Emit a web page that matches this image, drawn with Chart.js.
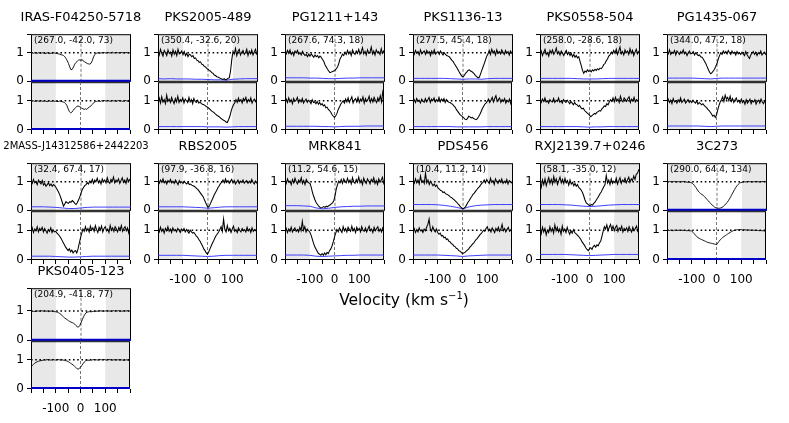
<!DOCTYPE html>
<html><head><meta charset="utf-8">
<script src="https://cdn.jsdelivr.net/npm/chart.js@4.4.1/dist/chart.umd.min.js"></script>
<style>
html,body{margin:0;padding:0;background:#fff;}
body{width:789px;height:423px;position:relative;overflow:hidden;font-family:"DejaVu Sans",sans-serif;}
canvas{position:absolute;}
.ttl{position:absolute;width:200px;height:16px;line-height:16px;text-align:center;white-space:nowrap;color:#000;}
.ann{position:absolute;font-size:9px;line-height:11px;white-space:nowrap;color:#000;}
.xl{position:absolute;font-size:15.5px;line-height:20px;white-space:nowrap;color:#000;width:300px;text-align:center;}
.xl sup{font-size:10px;vertical-align:6px;line-height:0;}
</style></head><body>
<script>
// ---------------- data ----------------
const VEL = [-200,-195,-190,-185,-180,-175,-170,-165,-160,-155,-150,-145,-140,-135,-130,-125,-120,-115,-110,-105,-100,-95,-90,-85,-80,-75,-70,-65,-60,-55,-50,-45,-40,-35,-30,-25,-20,-15,-10,-5,0,5,10,15,20,25,30,35,40,45,50,55,60,65,70,75,80,85,90,95,100,105,110,115,120,125,130,135,140,145,150,155,160,165,170,175,180,185,190,195,200];
const VEL_ERR = [-200,-175,-150,-125,-100,-75,-50,-25,0,25,50,75,100,125,150,175,200];
const X_TICKS = [-200,-150,-100,-50,0,50,100,150,200];
const X_TICK_LABELS = ['','','-100','','0','','100','',''];
const Y_TICKS = [0,1];
const Y_TICK_LABELS = ['0','1'];
const SHADE = [[-200,-100],[100,200]];
const CONTINUUM = 1;

const TARGETS = ['IRAS-F04250-5718','PKS2005-489','PG1211+143','PKS1136-13','PKS0558-504','PG1435-067','2MASS-J14312586+2442203','RBS2005','MRK841','PDS456','RXJ2139.7+0246','3C273','PKS0405-123'];
const COORDS = ['(267.0, -42.0, 73)','(350.4, -32.6, 20)','(267.6, 74.3, 18)','(277.5, 45.4, 18)','(258.0, -28.6, 18)','(344.0, 47.2, 18)','(32.4, 67.4, 17)','(97.9, -36.8, 16)','(11.2, 54.6, 15)','(10.4, 11.2, 14)','(58.1, -35.0, 12)','(290.0, 64.4, 134)','(204.9, -41.8, 77)'];

const IRAS_A = [0.99,1.0,0.98,1.0,0.99,0.98,1.0,0.99,0.98,1.0,
0.99,0.97,0.98,1.0,0.98,0.97,0.99,0.98,1.0,0.99,
0.98,0.97,0.96,0.95,0.93,0.92,0.9,0.86,0.8,0.72,
0.62,0.5,0.4,0.42,0.5,0.6,0.66,0.7,0.74,0.75,
0.73,0.76,0.7,0.68,0.65,0.62,0.61,0.6,0.63,0.72,
0.85,0.94,0.98,0.99,1.0,0.98,1.0,0.99,1.01,1.0,
0.99,1.0,1.01,0.99,1.0,1.02,0.99,1.0,1.01,1.0,
1.0,0.99,1.01,1.0,1.0,0.99,1.01,1.0,0.99,1.0,
1.0];
const IRAS_B = [0.98,0.99,1.0,0.98,0.99,1.0,0.99,0.98,1.0,0.99,
0.98,1.0,0.99,0.97,0.99,1.0,0.98,0.99,1.0,0.98,
0.99,0.98,0.97,0.99,0.98,0.97,0.96,0.94,0.9,0.84,
0.72,0.62,0.58,0.6,0.66,0.72,0.76,0.8,0.82,0.8,
0.78,0.74,0.72,0.7,0.72,0.7,0.74,0.78,0.8,0.86,
0.9,0.94,0.97,0.98,0.99,1.0,0.98,1.0,0.99,1.01,
1.0,0.99,1.01,1.0,0.98,1.0,1.01,0.99,1.0,0.98,
1.0,1.01,0.99,1.0,0.98,0.99,1.01,1.0,0.99,0.98,
0.99];
const PKS2005_A = [1.05,0.92,1.12,0.98,0.88,1.08,1.0,0.9,1.1,0.97,
1.02,0.88,1.1,0.95,1.05,0.9,1.12,0.96,0.99,1.06,
0.93,1.04,0.9,0.98,0.86,0.95,0.92,0.86,0.9,0.8,
0.82,0.74,0.72,0.66,0.68,0.6,0.58,0.52,0.5,0.45,
0.42,0.38,0.35,0.3,0.28,0.22,0.2,0.16,0.15,0.12,
0.1,0.08,0.06,0.09,0.05,0.07,0.1,0.12,0.35,0.75,
1.05,0.95,1.15,0.9,1.05,1.12,0.92,1.02,1.08,0.94,
1.0,1.12,0.9,1.05,0.96,1.1,0.92,1.03,1.12,0.95,
1.0];
const PKS2005_B = [1.0,1.1,0.92,1.14,0.96,1.04,0.9,1.2,0.98,1.06,
0.94,1.12,1.0,0.9,1.08,0.96,1.16,0.94,1.04,0.98,
1.1,0.92,1.06,1.0,0.94,1.12,0.96,1.04,0.9,1.08,
0.98,0.94,1.02,0.92,0.96,0.9,0.88,0.86,0.84,0.8,
0.78,0.74,0.7,0.66,0.62,0.6,0.55,0.52,0.48,0.46,
0.42,0.38,0.35,0.32,0.3,0.26,0.24,0.34,0.45,0.62,
0.76,0.86,0.92,1.04,0.94,1.1,0.98,1.04,0.92,1.08,
1.0,1.12,0.94,1.04,0.98,1.1,0.92,1.02,1.06,0.96,
1.0];
const PG1211_A = [1.04,0.96,1.08,0.98,1.1,0.94,1.02,0.9,1.06,0.99,
1.08,0.95,1.0,0.92,1.05,0.96,0.9,0.94,0.86,0.95,
0.88,0.96,0.9,0.84,0.92,0.86,0.9,0.82,0.88,0.84,
0.76,0.7,0.58,0.5,0.42,0.36,0.3,0.32,0.34,0.36,
0.38,0.44,0.5,0.62,0.78,0.86,0.95,0.9,1.02,0.94,
1.08,0.96,1.04,0.9,1.1,1.0,0.94,1.06,0.98,1.12,
0.95,1.04,1.18,0.96,1.05,0.92,1.1,0.98,1.02,1.2,
0.96,1.06,0.92,1.1,1.0,1.04,0.94,1.14,0.98,1.06,
0.92];
const PG1211_B = [0.98,1.06,0.94,1.1,0.96,1.04,0.9,1.08,0.98,1.02,
1.12,0.94,1.04,0.96,1.08,0.92,1.0,1.06,0.95,1.02,
0.98,0.9,1.04,0.94,0.96,0.9,0.98,0.88,0.94,0.86,
0.9,0.82,0.86,0.76,0.78,0.7,0.66,0.6,0.52,0.46,
0.42,0.48,0.56,0.7,0.78,0.88,0.94,1.0,0.92,1.06,
0.96,1.1,0.94,1.04,1.14,0.92,1.02,1.08,0.96,1.12,
0.94,1.06,1.0,1.14,0.92,1.08,0.98,1.04,1.16,0.95,
1.08,0.96,1.12,1.02,0.94,1.1,1.0,1.18,0.96,1.3,
1.1];
const PKS1136_A = [1.02,0.94,1.08,0.98,1.04,0.92,1.1,0.96,1.02,1.06,
0.94,1.08,0.98,1.04,0.9,1.06,0.96,1.1,0.95,1.0,
1.04,0.94,1.06,0.98,0.92,1.0,0.94,0.9,0.88,0.86,
0.8,0.74,0.7,0.62,0.55,0.48,0.4,0.32,0.25,0.18,
0.15,0.2,0.28,0.32,0.38,0.4,0.36,0.34,0.3,0.26,
0.2,0.16,0.12,0.14,0.25,0.38,0.5,0.62,0.75,0.88,
0.96,1.08,0.94,1.12,1.0,1.06,0.92,1.1,0.98,1.04,
0.96,1.1,1.02,0.94,1.08,0.98,1.04,0.92,1.06,0.98,
1.0];
const PKS1136_B = [0.96,1.04,0.94,1.08,0.98,1.02,0.92,1.06,1.0,0.95,
1.08,0.96,1.04,1.12,0.94,1.06,1.0,1.1,0.96,1.04,
0.98,1.12,0.96,1.06,1.0,1.08,0.94,1.04,0.98,0.95,
0.94,0.9,0.88,0.82,0.78,0.7,0.64,0.58,0.52,0.48,
0.45,0.4,0.36,0.34,0.38,0.46,0.44,0.4,0.42,0.38,
0.36,0.34,0.38,0.44,0.52,0.62,0.72,0.8,0.88,0.92,
0.98,1.06,0.94,1.02,1.12,0.96,1.08,1.18,0.98,1.04,
1.1,0.94,1.04,0.98,1.08,0.92,1.02,0.96,1.06,0.9,
1.0];
const PKS0558_A = [0.96,1.06,0.9,1.02,1.12,0.94,1.0,0.88,1.08,0.98,
1.1,0.94,1.02,1.16,0.96,1.04,0.92,1.06,0.98,0.9,
1.0,1.08,0.94,1.02,0.9,0.98,0.86,0.94,0.84,0.9,
0.82,0.86,0.7,0.55,0.38,0.28,0.36,0.32,0.4,0.34,
0.38,0.33,0.4,0.36,0.42,0.38,0.44,0.4,0.46,0.44,
0.5,0.58,0.62,0.72,0.78,0.88,0.92,1.02,0.96,1.08,
0.98,1.12,0.94,1.06,1.2,0.96,1.04,0.92,1.1,1.0,
1.06,0.94,1.14,0.98,1.08,0.9,1.02,1.12,0.96,1.04,
0.98];
const PKS0558_B = [1.02,0.94,1.06,0.98,1.1,0.96,1.0,0.92,1.04,0.98,
0.96,1.08,0.94,1.02,0.98,1.1,0.95,1.0,0.92,1.04,
0.98,0.94,1.02,0.96,0.9,0.98,0.92,0.86,0.94,0.88,
0.86,0.8,0.84,0.76,0.72,0.74,0.66,0.62,0.58,0.54,
0.5,0.44,0.48,0.52,0.56,0.54,0.6,0.62,0.66,0.64,
0.72,0.76,0.82,0.8,0.9,0.86,0.96,1.04,0.98,1.1,
0.96,1.12,1.0,1.06,0.94,1.16,1.02,0.96,1.1,1.04,
0.98,1.08,1.14,0.94,1.06,1.0,1.12,0.96,1.04,1.0,
1.06];
const PG1435_A = [1.04,0.96,1.1,0.94,1.02,0.98,1.08,0.92,1.06,1.0,
0.94,1.04,0.98,1.1,0.96,1.02,0.9,1.0,1.06,0.96,
0.98,1.04,0.92,1.0,0.94,0.9,0.92,0.86,0.84,0.78,
0.7,0.62,0.52,0.42,0.32,0.26,0.3,0.36,0.42,0.52,
0.62,0.78,0.9,1.0,0.94,1.06,0.98,1.04,0.96,1.08,
1.0,0.94,1.06,0.98,1.02,0.92,1.04,0.96,1.0,0.94,
1.02,0.96,0.9,1.04,0.94,0.86,0.8,0.92,0.98,1.04,
0.94,1.02,0.9,1.0,0.96,1.06,0.92,0.98,1.02,0.94,
0.98];
const PG1435_B = [0.98,1.06,0.94,1.02,0.9,1.08,0.96,1.0,0.92,1.04,
0.96,1.1,0.94,1.0,1.06,0.92,0.98,1.04,0.94,1.0,
0.94,1.02,0.96,0.92,1.0,0.88,0.94,0.9,0.86,0.9,
0.84,0.8,0.76,0.7,0.66,0.6,0.54,0.46,0.5,0.42,
0.5,0.68,0.84,0.96,1.04,1.14,0.98,1.2,1.06,1.12,
1.0,1.16,0.98,1.08,0.94,1.04,1.1,0.96,1.02,0.92,
1.06,0.94,1.0,0.88,1.04,0.92,0.98,1.06,0.9,1.0,
0.96,1.04,0.88,0.98,1.02,0.92,1.06,0.96,0.9,1.0,
0.94];
const MASS_A = [1.02,0.94,1.08,0.96,1.0,0.9,1.06,0.98,0.92,1.04,
0.88,0.94,0.84,0.9,0.96,0.86,0.92,0.84,0.9,0.86,
0.8,0.72,0.64,0.54,0.42,0.28,0.14,0.22,0.3,0.26,
0.24,0.3,0.28,0.34,0.3,0.24,0.2,0.26,0.36,0.46,
0.6,0.72,0.8,0.86,0.9,0.96,0.92,1.02,0.96,1.08,
0.94,1.06,1.0,1.12,0.96,1.04,0.92,1.1,1.0,1.06,
0.96,1.14,1.0,0.94,1.08,1.02,1.16,0.96,1.06,1.0,
1.1,0.94,1.04,1.14,0.98,1.06,0.94,1.12,1.02,1.08,
1.0];
const MASS_B = [0.96,1.08,0.92,1.04,0.98,1.12,0.94,1.06,1.0,1.1,
0.94,1.06,0.98,0.9,1.02,0.96,1.08,0.92,1.0,0.94,
0.96,0.9,0.86,0.8,0.74,0.66,0.58,0.5,0.42,0.36,
0.3,0.36,0.26,0.32,0.22,0.28,0.3,0.22,0.36,0.55,
0.74,0.9,1.04,0.96,1.12,0.98,1.06,0.94,1.14,1.0,
1.08,0.96,1.16,1.02,0.92,1.1,1.0,1.14,0.94,1.06,
1.12,0.98,1.04,0.92,1.16,1.0,1.08,0.96,1.12,1.04,
0.94,1.1,1.0,1.16,0.96,1.06,1.12,0.98,1.08,0.9,
1.02];
const RBS2005_A = [1.0,0.94,1.06,0.98,1.1,0.96,1.02,0.92,1.04,0.98,
1.08,0.96,1.02,0.94,1.06,0.98,0.9,1.04,0.96,1.0,
0.94,1.02,0.96,0.92,0.98,0.9,0.92,0.88,0.86,0.84,
0.8,0.76,0.72,0.66,0.6,0.54,0.48,0.38,0.28,0.18,
0.1,0.14,0.24,0.34,0.44,0.54,0.62,0.7,0.8,0.86,
0.94,0.98,1.06,0.96,1.1,0.98,1.04,0.94,1.02,1.08,
0.96,1.04,0.92,1.0,1.06,0.94,1.02,0.98,1.06,0.95,
1.0,1.04,0.94,1.02,0.96,1.08,0.98,0.92,1.02,0.96,
1.0];
const RBS2005_B = [1.02,0.94,1.1,0.96,1.04,0.9,1.06,0.98,1.12,0.96,
1.04,0.92,1.08,0.98,1.02,0.94,1.06,1.0,0.92,1.04,
0.98,1.06,0.94,1.02,0.96,0.9,1.0,0.94,0.9,0.92,
0.86,0.8,0.76,0.68,0.62,0.54,0.46,0.36,0.3,0.22,
0.18,0.26,0.36,0.46,0.56,0.64,0.74,0.82,0.88,0.94,
1.02,1.12,0.96,1.38,1.02,0.94,1.16,0.98,1.06,0.92,
1.04,1.14,0.96,1.02,0.92,1.08,1.0,0.94,1.06,0.98,
1.02,0.94,1.1,0.98,1.04,0.92,1.08,0.96,1.02,0.98,
1.04];
const MRK841_A = [1.04,0.94,1.1,0.98,1.02,0.9,1.08,0.96,1.12,1.0,
0.92,1.06,0.98,1.14,0.94,1.04,0.9,1.08,1.0,0.96,
0.94,0.8,0.62,0.48,0.36,0.26,0.2,0.14,0.1,0.08,
0.1,0.13,0.1,0.14,0.12,0.16,0.18,0.22,0.26,0.32,
0.5,0.74,0.9,1.02,0.96,1.08,0.94,1.1,1.02,0.96,
1.12,0.98,1.06,0.92,1.14,1.0,0.94,1.08,0.98,1.16,
0.96,1.06,0.9,1.12,1.0,0.94,1.1,1.02,0.92,1.08,
1.0,1.14,0.94,1.04,0.9,1.1,0.98,1.06,1.16,0.94,
1.02];
const MRK841_B = [0.98,1.06,0.92,1.04,0.96,1.1,0.94,1.02,1.08,0.96,
1.02,0.94,1.1,0.98,1.3,1.0,1.12,0.94,1.04,0.98,
0.94,0.84,0.7,0.56,0.44,0.36,0.28,0.2,0.18,0.14,
0.2,0.14,0.22,0.16,0.24,0.2,0.3,0.36,0.46,0.6,
0.76,0.9,1.02,0.94,1.08,1.0,0.92,1.12,0.98,1.06,
0.94,1.1,1.02,0.96,1.14,0.98,1.06,0.92,1.1,1.0,
1.06,0.94,1.12,1.0,0.96,1.08,0.94,1.04,1.14,0.98,
1.04,0.92,1.1,0.98,1.06,1.12,0.96,1.04,0.94,1.08,
1.0];
const PDS456_A = [1.02,0.94,1.1,0.96,1.06,0.92,1.2,0.98,1.04,0.94,
1.3,0.96,1.06,0.9,1.02,0.94,0.86,0.92,0.84,0.88,
0.78,0.74,0.7,0.68,0.62,0.64,0.58,0.56,0.54,0.5,
0.46,0.44,0.4,0.36,0.32,0.28,0.22,0.18,0.12,0.08,
0.05,0.08,0.12,0.2,0.28,0.34,0.42,0.48,0.56,0.6,
0.66,0.72,0.78,0.82,0.88,0.94,0.98,1.06,0.96,1.08,
1.0,0.94,1.12,0.98,1.04,0.9,1.1,1.0,0.94,1.06,
0.98,1.1,0.94,1.02,0.96,1.08,0.92,1.04,1.0,0.96,
1.02];
const PDS456_B = [0.96,1.06,0.92,1.02,0.94,1.08,0.98,1.0,0.92,1.04,
0.98,1.1,1.2,1.38,1.04,0.96,1.12,1.0,0.94,1.04,
0.92,0.86,0.9,0.8,0.82,0.74,0.76,0.68,0.7,0.62,
0.6,0.54,0.52,0.46,0.44,0.38,0.36,0.3,0.28,0.24,
0.2,0.22,0.24,0.28,0.32,0.36,0.42,0.46,0.52,0.56,
0.62,0.68,0.72,0.78,0.84,0.88,0.94,1.0,0.96,1.06,
1.12,0.98,1.04,0.94,1.08,1.0,0.92,1.06,0.98,1.1,
0.96,1.04,1.2,0.98,1.06,0.94,1.02,1.1,0.96,1.0,
0.98];
const RXJ2139_A = [0.96,0.8,1.06,0.9,1.1,0.86,1.02,1.14,0.94,1.08,
0.92,1.18,0.98,1.1,0.9,1.04,1.16,0.96,1.08,0.94,
1.12,0.96,1.04,0.88,1.06,0.92,0.98,0.86,0.94,0.84,
0.9,0.8,0.76,0.7,0.62,0.5,0.36,0.26,0.22,0.18,
0.16,0.2,0.18,0.24,0.28,0.36,0.42,0.5,0.58,0.64,
0.74,0.82,0.9,1.22,0.96,1.06,0.9,1.1,0.94,1.02,
0.96,1.12,0.92,1.04,1.14,0.94,1.06,1.0,1.12,0.96,
1.06,1.16,0.98,1.1,1.04,1.2,1.08,1.26,1.3,1.42,
1.46];
const RXJ2139_B = [1.02,0.88,1.1,0.94,1.06,0.84,1.0,0.92,1.12,0.96,
1.06,0.9,1.18,0.98,1.1,0.94,1.04,0.86,1.14,0.96,
1.04,0.92,1.1,0.96,0.86,0.98,0.9,1.02,0.92,0.88,
0.84,0.8,0.74,0.68,0.6,0.54,0.48,0.4,0.34,0.3,
0.36,0.4,0.34,0.44,0.48,0.42,0.5,0.46,0.56,0.62,
0.78,0.96,1.12,1.04,1.18,0.98,1.1,1.2,1.02,1.14,
0.98,1.1,1.16,0.96,1.08,1.02,1.14,0.94,1.06,1.0,
1.08,0.96,1.12,1.02,0.94,1.1,0.98,1.06,1.14,0.96,
1.04];
const C3C273_A = [1.0,0.99,1.01,1.0,0.99,1.0,1.01,0.99,1.0,1.0,
1.0,0.99,1.0,1.01,0.99,1.0,0.98,0.99,0.98,0.97,
0.96,0.92,0.86,0.8,0.74,0.67,0.62,0.58,0.55,0.52,
0.48,0.43,0.38,0.33,0.28,0.23,0.19,0.15,0.11,0.09,
0.08,0.07,0.07,0.08,0.1,0.13,0.17,0.22,0.27,0.33,
0.4,0.48,0.56,0.64,0.72,0.8,0.86,0.91,0.95,0.97,
0.98,0.99,1.0,0.99,1.0,1.01,1.0,1.0,0.99,1.0,
1.0,1.01,1.0,1.0,0.99,1.0,1.0,1.01,1.0,1.0,
1.0];
const C3C273_B = [0.99,1.0,0.99,1.0,0.99,0.98,1.0,0.99,1.0,0.99,
1.0,0.99,1.0,0.99,1.0,0.99,0.98,0.99,0.98,0.98,
0.97,0.93,0.88,0.83,0.78,0.75,0.72,0.7,0.68,0.66,
0.64,0.62,0.6,0.58,0.57,0.56,0.55,0.54,0.53,0.52,
0.5,0.56,0.62,0.67,0.71,0.75,0.78,0.81,0.84,0.87,
0.9,0.92,0.95,0.97,0.99,1.0,1.01,1.02,1.02,1.02,
1.02,1.01,1.02,1.01,1.01,1.0,1.01,1.0,1.0,1.0,
1.0,0.99,1.0,0.99,0.99,0.98,0.99,0.98,0.98,0.97,
0.97];
const PKS0405_A = [0.97,0.98,0.99,0.98,0.99,1.0,1.0,0.99,1.01,1.0,
1.0,1.01,0.99,1.0,0.98,0.99,1.0,0.99,0.98,0.98,
0.97,0.96,0.94,0.91,0.88,0.84,0.8,0.76,0.73,0.7,
0.67,0.64,0.62,0.6,0.58,0.55,0.5,0.46,0.45,0.5,
0.6,0.7,0.8,0.88,0.94,0.96,0.97,0.98,0.97,0.98,
0.99,0.98,1.0,0.99,1.0,1.01,1.0,1.0,0.99,1.0,
1.0,1.01,1.0,1.0,0.99,1.0,1.01,1.0,1.01,1.0,
1.01,1.0,1.0,0.99,1.01,1.0,1.0,1.01,1.0,1.0,
1.0];
const PKS0405_B = [0.74,0.8,0.84,0.88,0.91,0.93,0.95,0.96,0.97,0.98,
0.99,1.0,0.99,1.01,1.0,1.0,0.99,1.0,1.01,1.0,
0.99,1.0,1.01,1.0,0.99,1.0,0.99,0.98,0.97,0.96,
0.94,0.91,0.88,0.85,0.82,0.78,0.74,0.7,0.67,0.7,
0.74,0.8,0.86,0.92,0.96,0.98,0.99,0.98,1.0,0.99,
1.0,1.01,1.0,1.0,0.99,1.0,1.01,1.0,1.0,1.01,
1.0,0.99,1.0,1.01,1.0,1.0,0.99,1.0,1.0,0.99,
1.0,1.0,0.99,1.0,0.99,0.98,0.99,1.0,0.99,0.98,
0.98];

// error spectra on VEL_ERR
const ERR_IRAS_A = [0.01,0.01,0.01,0.01,0.01,0.01,0.01,0.01,0.01,0.01,0.01,0.01,0.01,0.01,0.01,0.01,0.01];
const ERR_IRAS_B = [0.01,0.01,0.01,0.01,0.01,0.01,0.01,0.01,0.01,0.01,0.01,0.01,0.01,0.01,0.01,0.01,0.01];
const ERR_PKS2005_A = [0.09,0.08,0.09,0.08,0.08,0.08,0.07,0.07,0.06,0.05,0.05,0.04,0.07,0.08,0.09,0.09,0.09];
const ERR_PKS2005_B = [0.1,0.1,0.1,0.1,0.1,0.1,0.1,0.1,0.09,0.09,0.09,0.08,0.09,0.1,0.1,0.1,0.1];
const ERR_PG1211_A = [0.12,0.12,0.12,0.12,0.11,0.11,0.1,0.09,0.09,0.1,0.11,0.11,0.12,0.12,0.12,0.12,0.12];
const ERR_PG1211_B = [0.11,0.11,0.11,0.11,0.11,0.11,0.1,0.1,0.09,0.1,0.11,0.11,0.11,0.12,0.12,0.12,0.12];
const ERR_PKS1136_A = [0.1,0.1,0.1,0.1,0.1,0.1,0.09,0.08,0.07,0.08,0.08,0.07,0.09,0.1,0.1,0.1,0.1];
const ERR_PKS1136_B = [0.1,0.1,0.1,0.1,0.1,0.1,0.1,0.09,0.09,0.09,0.09,0.09,0.1,0.1,0.1,0.1,0.1];
const ERR_PKS0558_A = [0.1,0.1,0.1,0.1,0.1,0.1,0.09,0.08,0.08,0.08,0.09,0.1,0.1,0.1,0.1,0.1,0.1];
const ERR_PKS0558_B = [0.1,0.1,0.1,0.1,0.1,0.1,0.1,0.09,0.08,0.09,0.09,0.1,0.1,0.1,0.1,0.1,0.1];
const ERR_PG1435_A = [0.11,0.11,0.11,0.11,0.11,0.1,0.09,0.08,0.1,0.11,0.11,0.11,0.11,0.11,0.11,0.11,0.11];
const ERR_PG1435_B = [0.12,0.12,0.12,0.12,0.12,0.12,0.11,0.1,0.11,0.12,0.12,0.12,0.12,0.12,0.12,0.12,0.12];
const ERR_MASS_A = [0.12,0.12,0.12,0.11,0.1,0.08,0.06,0.06,0.08,0.1,0.11,0.11,0.11,0.11,0.11,0.11,0.11];
const ERR_MASS_B = [0.11,0.11,0.11,0.11,0.1,0.09,0.08,0.08,0.09,0.1,0.11,0.11,0.11,0.11,0.11,0.11,0.11];
const ERR_RBS2005_A = [0.12,0.12,0.12,0.12,0.12,0.11,0.1,0.09,0.07,0.09,0.11,0.12,0.12,0.12,0.12,0.12,0.12];
const ERR_RBS2005_B = [0.14,0.14,0.14,0.14,0.14,0.13,0.12,0.11,0.1,0.11,0.13,0.14,0.14,0.14,0.14,0.14,0.14];
const ERR_MRK841_A = [0.16,0.16,0.16,0.15,0.14,0.08,0.05,0.07,0.1,0.12,0.13,0.14,0.14,0.15,0.15,0.15,0.15];
const ERR_MRK841_B = [0.15,0.15,0.15,0.15,0.14,0.11,0.1,0.11,0.12,0.13,0.14,0.14,0.15,0.15,0.15,0.15,0.15];
const ERR_PDS456_A = [0.2,0.2,0.2,0.2,0.19,0.17,0.14,0.1,0.05,0.12,0.16,0.18,0.19,0.2,0.2,0.2,0.2];
const ERR_PDS456_B = [0.15,0.15,0.15,0.15,0.15,0.14,0.13,0.12,0.1,0.12,0.13,0.14,0.15,0.15,0.15,0.15,0.15];
const ERR_RXJ2139_A = [0.2,0.2,0.2,0.2,0.19,0.18,0.16,0.14,0.13,0.14,0.16,0.18,0.19,0.2,0.2,0.2,0.2];
const ERR_RXJ2139_B = [0.17,0.17,0.17,0.17,0.17,0.16,0.15,0.14,0.13,0.14,0.15,0.16,0.17,0.17,0.17,0.17,0.17];
const ERR_3C273_A = [0.01,0.01,0.01,0.01,0.01,0.01,0.01,0.01,0.01,0.01,0.01,0.01,0.01,0.01,0.01,0.01,0.01];
const ERR_3C273_B = [0.01,0.01,0.01,0.01,0.01,0.01,0.01,0.01,0.01,0.01,0.01,0.01,0.01,0.01,0.01,0.01,0.01];
const ERR_PKS0405_A = [0.01,0.01,0.01,0.01,0.01,0.01,0.01,0.01,0.01,0.01,0.01,0.01,0.01,0.01,0.01,0.01,0.01];
const ERR_PKS0405_B = [0.01,0.01,0.01,0.01,0.01,0.01,0.01,0.01,0.01,0.01,0.01,0.01,0.01,0.01,0.01,0.01,0.01];

const FLUX_UPPER = [IRAS_A,PKS2005_A,PG1211_A,PKS1136_A,PKS0558_A,PG1435_A,MASS_A,RBS2005_A,MRK841_A,PDS456_A,RXJ2139_A,C3C273_A,PKS0405_A];
const FLUX_LOWER = [IRAS_B,PKS2005_B,PG1211_B,PKS1136_B,PKS0558_B,PG1435_B,MASS_B,RBS2005_B,MRK841_B,PDS456_B,RXJ2139_B,C3C273_B,PKS0405_B];
const ERR_UPPER = [ERR_IRAS_A,ERR_PKS2005_A,ERR_PG1211_A,ERR_PKS1136_A,ERR_PKS0558_A,ERR_PG1435_A,ERR_MASS_A,ERR_RBS2005_A,ERR_MRK841_A,ERR_PDS456_A,ERR_RXJ2139_A,ERR_3C273_A,ERR_PKS0405_A];
const ERR_LOWER = [ERR_IRAS_B,ERR_PKS2005_B,ERR_PG1211_B,ERR_PKS1136_B,ERR_PKS0558_B,ERR_PG1435_B,ERR_MASS_B,ERR_RBS2005_B,ERR_MRK841_B,ERR_PDS456_B,ERR_RXJ2139_B,ERR_3C273_B,ERR_PKS0405_B];

// ---------------- layout / style ----------------
const COL_LEFT = [31,158,285,413,540,667];
const PANEL_W = 100;
const ROW_GEOM = [[34,82,130],[163,211,260],[288,341,389]];
const Y_MIN = -0.02, Y_MAX = 1.65, Y_MAX_TALL = 1.78;
const THICK_ERR = [0,11,12];
const TICK_LABEL_PANELS = [7,8,9,10,11,12];
const PL = 34, PT = 10, PR = 8;

const decoPlugin = {
  id: 'deco',
  beforeDatasetsDraw(chart) {
    const {ctx, chartArea: a, scales: {x}} = chart;
    ctx.save();
    ctx.fillStyle = '#e8e8e8';
    for (const [v0, v1] of SHADE) {
      const p0 = x.getPixelForValue(v0), p1 = x.getPixelForValue(v1);
      ctx.fillRect(Math.min(p0, p1), a.top, Math.abs(p1 - p0), a.bottom - a.top);
    }
    ctx.strokeStyle = '#000';
    ctx.lineWidth = 1;
    ctx.strokeRect(a.left + 0.5, a.top + 0.5, a.right - a.left - 1, a.bottom - a.top - 1);
    ctx.restore();
  }
};

function addSubplot(left, top, bottom, flux, err, isUpper, showLabels, thickErr, yMax) {
  const cv = document.createElement('canvas');
  const h = bottom - top;
  const cvH = isUpper ? PT + h + 10 : PT + h + 34;
  const cvW = PL + PANEL_W + PR;
  cv.width = cvW; cv.height = cvH;
  cv.style.left = (left - PL) + 'px';
  cv.style.top = (top - PT) + 'px';
  cv.style.width = cvW + 'px'; cv.style.height = cvH + 'px';
  document.body.appendChild(cv);
  const yTicks = isUpper ? Y_TICKS.concat([yMax]) : Y_TICKS.slice();
  new Chart(cv, {
    type: 'line',
    data: {
      datasets: [
        {data: VEL.map((v, i) => ({x: v, y: flux[i]})), borderColor: '#000', borderWidth: thickErr ? 0.9 : 1.05, pointRadius: 0, tension: 0},
        {data: VEL_ERR.map((v, i) => ({x: v, y: err[i]})), borderColor: thickErr ? '#0000c8' : '#2a2aff', borderWidth: thickErr ? 2.2 : 0.9, pointRadius: 0, tension: 0},
        {data: [{x: X_TICKS[0], y: CONTINUUM}, {x: X_TICKS[X_TICKS.length - 1], y: CONTINUUM}], borderColor: '#000', borderWidth: 1.6, borderDash: [1.6, 2.6], pointRadius: 0},
        {data: [{x: 0, y: Y_MIN}, {x: 0, y: yMax}], borderColor: '#666', borderWidth: 0.9, borderDash: [3, 2], pointRadius: 0}
      ]
    },
    options: {
      responsive: false, animation: false, devicePixelRatio: 1, events: [],
      layout: {padding: {left: 0, top: PT, right: PR, bottom: isUpper ? 10 : 2}},
      plugins: {legend: {display: false}, tooltip: {enabled: false}, title: {display: false}},
      scales: {
        x: {
          type: 'linear', min: X_TICKS[0], max: X_TICKS[X_TICKS.length - 1],
          display: !isUpper,
          afterFit: s => { s.height = isUpper ? 0 : 32; },
          afterBuildTicks: s => { s.ticks = X_TICKS.map(v => ({value: v})); },
          ticks: {autoSkip: false, maxRotation: 0, padding: 9, color: '#000',
            font: {family: 'DejaVu Sans', size: 12},
            callback: v => showLabels ? X_TICK_LABELS[X_TICKS.indexOf(v)] : ''},
          grid: {display: true, drawOnChartArea: false, drawTicks: true, tickLength: 4, color: '#000', lineWidth: 1},
          border: {display: false}
        },
        y: {
          type: 'linear', min: Y_MIN, max: yMax,
          afterFit: s => { s.width = PL; },
          afterBuildTicks: s => { s.ticks = yTicks.map(v => ({value: v})); },
          ticks: {padding: 3, color: '#000', font: {family: 'DejaVu Sans', size: 12},
            callback: v => { const k = Y_TICKS.indexOf(v); return k >= 0 ? Y_TICK_LABELS[k] : ''; }},
          grid: {display: true, drawOnChartArea: false, drawTicks: true, tickLength: 4, color: '#000', lineWidth: 1},
          border: {display: false}
        }
      }
    },
    plugins: [decoPlugin]
  });
}

function addText(cls, html, left, top, extra) {
  const d = document.createElement('div');
  d.className = cls;
  d.innerHTML = html;
  d.style.left = left + 'px';
  d.style.top = top + 'px';
  if (extra) Object.assign(d.style, extra);
  document.body.appendChild(d);
}

TARGETS.forEach((name, i) => {
  const row = Math.floor(i / 6), col = i % 6;
  const L = COL_LEFT[col];
  const [top, mid, bot] = ROW_GEOM[row];
  const thick = THICK_ERR.includes(i);
  const upperMax = (mid - top) > 50 ? Y_MAX_TALL : Y_MAX;
  addSubplot(L, top, mid, FLUX_UPPER[i], ERR_UPPER[i], true, false, thick, upperMax);
  addSubplot(L, mid, bot, FLUX_LOWER[i], ERR_LOWER[i], false, TICK_LABEL_PANELS.includes(i), thick, Y_MAX);
  const long = name.length > 18;
  const fs = long ? 10 : 13;
  const cx = long ? L + PANEL_W / 2 - 5 : L + PANEL_W / 2;
  addText('ttl', name, cx - 100, top - 25, {fontSize: fs + 'px'});
  addText('ann', COORDS[i], L + 3, top + 1);
});

addText('xl', 'Velocity (km s<sup>\u22121</sup>)', 404 - 150, 290);
</script>
</body></html>
